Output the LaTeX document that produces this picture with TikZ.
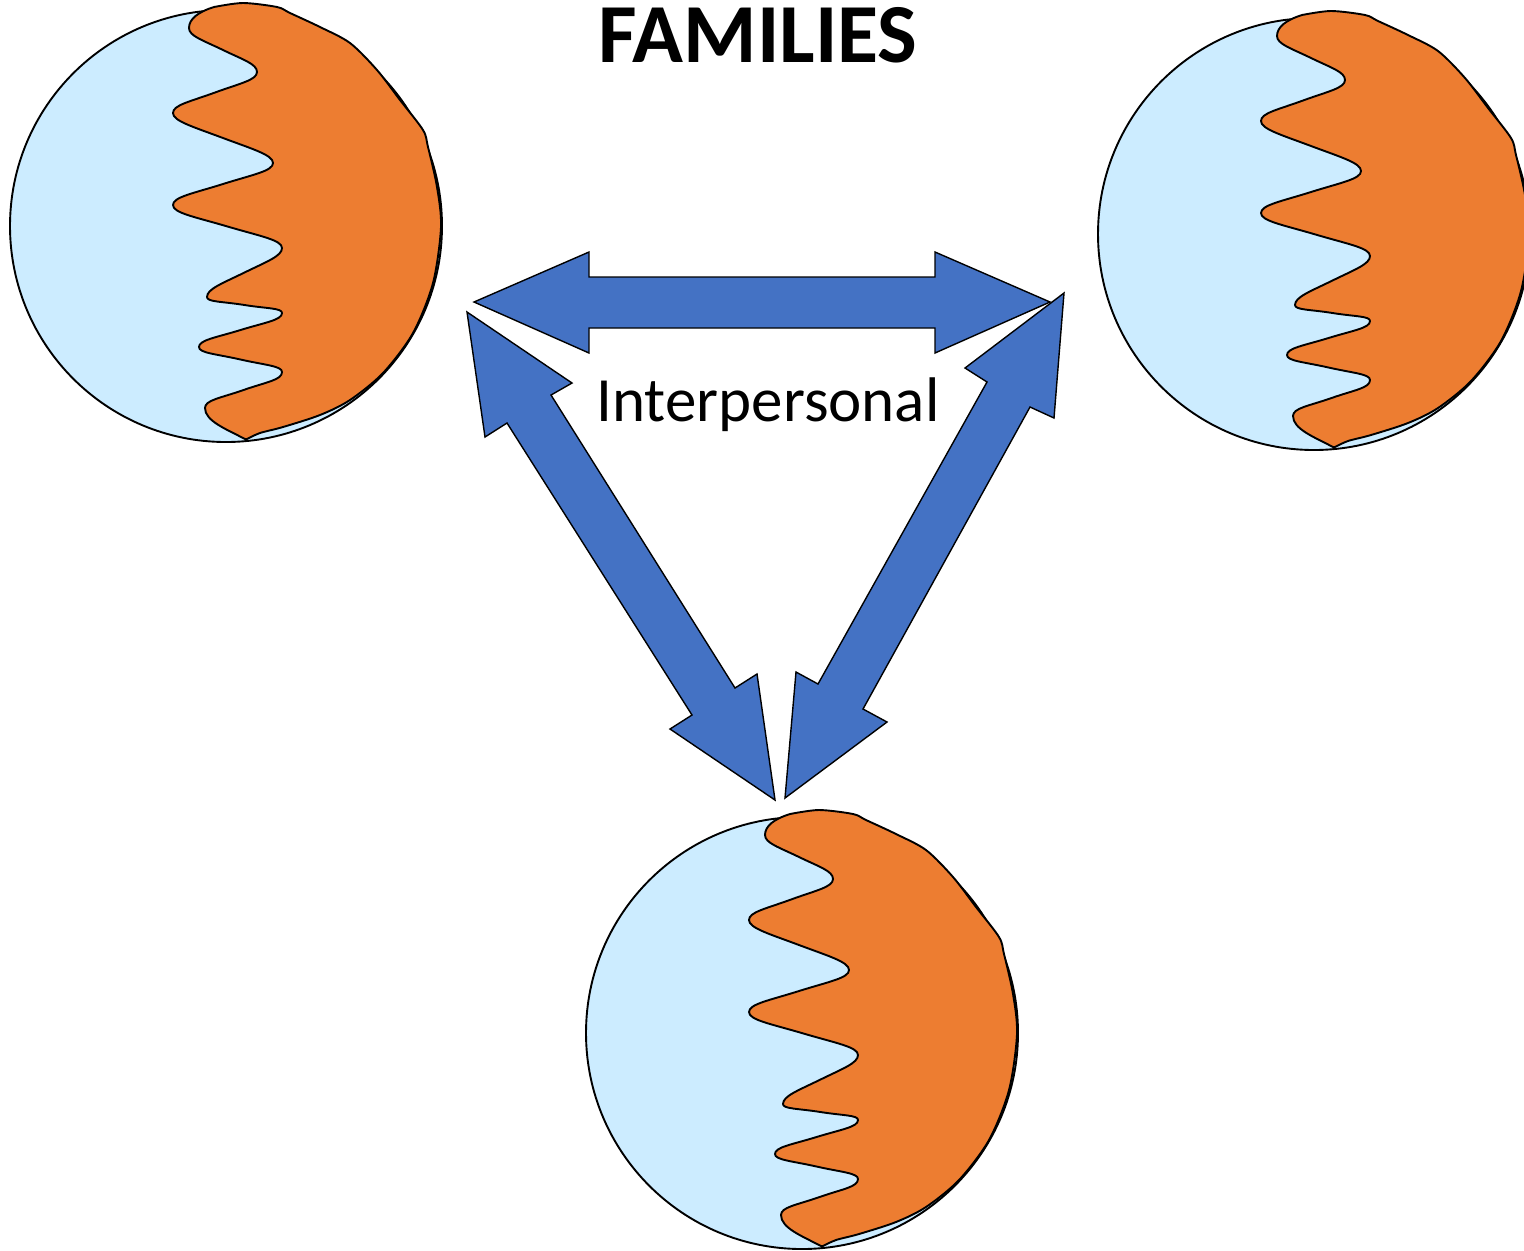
\documentclass[tikz,border=0pt]{standalone}
\usepackage{fontspec}
\setmainfont{Carlito}
\definecolor{globeblue}{HTML}{CCECFF}
\definecolor{globeorange}{HTML}{ED7D31}
\definecolor{arrowblue}{HTML}{4472C4}
\tikzset{
  wseg/.style n args={5}{insert path={
    .. controls (#1,{(#2)+(#5)}) and ({((#1)+(#3))/2-0.3*((#3)-(#1))},{((#2)+(#4))/2-0.225*((#4)-(#2))})
    .. ({((#1)+(#3))/2},{((#2)+(#4))/2})
    .. controls ({((#1)+(#3))/2+0.3*((#3)-(#1))},{((#2)+(#4))/2+0.225*((#4)-(#2))}) and (#3,{(#4)-(#5)})
    .. (#3,#4)}}
}
\begin{document}
\begin{tikzpicture}[x=0.5pt,y=-0.5pt,
  blockarrow/.style={fill=arrowblue,draw=black,line width=0.7pt,line join=miter},
  globeline/.style={draw=black,line width=0.95pt,line join=round},
  globe/.pic={
    \path[globeline,fill=globeblue] (0,0) circle[radius=108pt];
    \path[globeline,fill=globeorange] (-37,-198)
      [wseg={-37}{-198}{31}{-154}{8}]
      [wseg={31}{-154}{-53}{-113}{8}]
      [wseg={-53}{-113}{47}{-63}{8}]
      [wseg={47}{-63}{-53}{-21}{8}]
      [wseg={-53}{-21}{56}{22}{8}]
      [wseg={56}{22}{-19}{71}{8}]
      [wseg={-19}{71}{56}{87}{5}]
      [wseg={56}{87}{-27}{121}{7}]
      [wseg={-27}{121}{56}{146}{6}]
      [wseg={56}{146}{-21}{182}{8}]
      .. controls (-21,195) and (0,203) .. (19,213)
      -- plot[smooth] coordinates {(21,213) (34,207) (57,201) (94,189) (124,174) (157,147) (187,107) (207,57) (215,1) (211,-39) (202,-79) (197,-96) (174,-126) (151,-156) (124,-183) (94,-199) (64,-213) (51,-219) (17,-223) (-12,-219)}
      .. controls (-28,-214) and (-37,-207) .. (-37,-198) -- cycle;
  }]
\useasboundingbox (0,0) rectangle (1524,1250);

% globes
\pic (gl) at (226,226) {globe};
\pic (gr) at (1314,234) {globe};
\pic (gb) at (802,1033) {globe};

% texts
\node[anchor=base,font=\bfseries\fontsize{42}{44}\selectfont] (title) at (758,62) {FAMILIES};
\node[anchor=base,font=\fontsize{31.5}{34}\selectfont] (label) at (768,421) {Interpersonal};

% horizontal double arrow
\coordinate (hL) at (474,302);
\coordinate (hR) at (1050,302);
\path[blockarrow] (hL) -- (589,252) -- (589,277) -- (935,277) -- (935,252) -- (hR)
  -- (935,353) -- (935,328) -- (589,328) -- (589,353) -- cycle;

% left diagonal double arrow
\coordinate (lT) at (467,312);
\coordinate (lB) at (775,800);
\path[blockarrow] (lT) -- (572,383) -- (551,395) -- (735,688) -- (757,674) -- (lB)
  -- (670,729) -- (692,715) -- (507,423) -- (485,437) -- cycle;

% right diagonal double arrow
\coordinate (rT) at (1064,293);
\coordinate (rB) at (785,798);
\path[blockarrow] (rT) -- (1054,418) -- (1030,407) -- (863,709) -- (887,722) -- (rB)
  -- (796,672) -- (818,684) -- (987,382) -- (965,368) -- cycle;
\end{tikzpicture}
\end{document}
